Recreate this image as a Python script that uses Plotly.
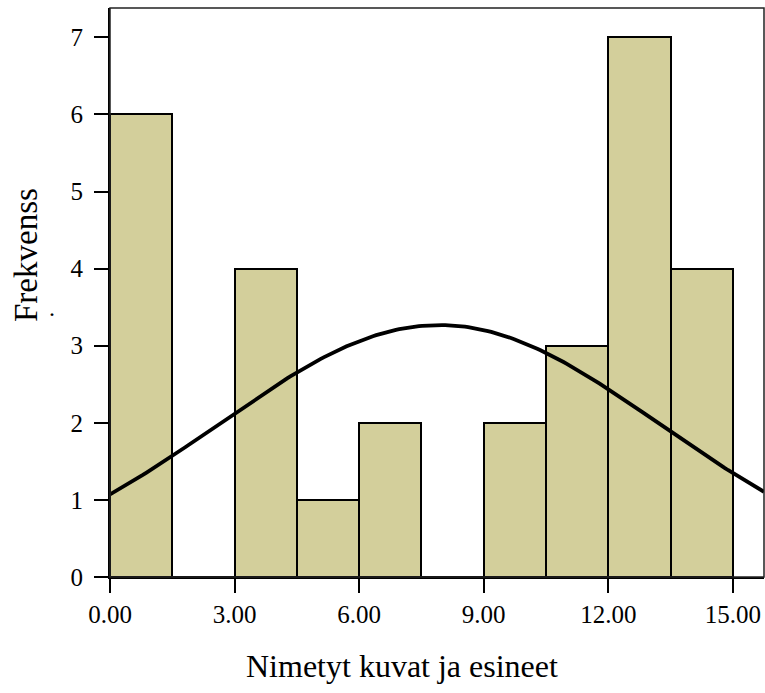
import numpy as np
import plotly.graph_objects as go

# Histogram data (bin left edges, counts)
bin_left = [0.0, 1.5, 3.0, 4.5, 6.0, 7.5, 9.0, 10.5, 12.0, 13.5]
counts = [6, 0, 4, 1, 2, 0, 2, 3, 7, 4]
bin_width = 1.5

# Normal curve fit parameters
fit_mean = 7.93
fit_sd = 5.31
n_total = sum(counts)

x_tickvals = [0, 3, 6, 9, 12, 15]
x_ticktext = ["0.00", "3.00", "6.00", "9.00", "12.00", "15.00"]
y_tickvals = [0, 1, 2, 3, 4, 5, 6, 7]

x_title = "Nimetyt kuvat ja esineet"
y_title = "Frekvenss"

FONT = "Liberation Serif"
BAR_COLOR = "#D3CF9B"

W, H = 765, 693
L, R, T, B = 110, 1, 8, H - 577
PW = W - L - R
PH = H - T - B

centers = [b + bin_width / 2 for b in bin_left]
xs = np.linspace(0, 15.75, 200)
ys = n_total * bin_width / (fit_sd * np.sqrt(2 * np.pi)) * np.exp(-0.5 * ((xs - fit_mean) / fit_sd) ** 2)

fig = go.Figure()
fig.add_trace(go.Bar(x=centers, y=counts, width=bin_width,
                     marker=dict(color=BAR_COLOR, line=dict(color="black", width=2)),
                     showlegend=False, hoverinfo="skip"))
fig.add_trace(go.Scatter(x=xs, y=ys, mode="lines",
                         line=dict(color="black", width=3.8), showlegend=False,
                         hoverinfo="skip"))

axis_common = dict(showgrid=False, zeroline=False, showline=True, linecolor="black",
                   linewidth=2, ticks="outside", tickcolor="black", tickwidth=2,
                   tickfont=dict(family=FONT, size=25, color="black"))


def px_x(px):
    return (px - L) / PW


def px_y(py):
    return (H - B - py) / PH


fig.update_layout(
    width=W, height=H,
    margin=dict(l=L, r=R, t=T, b=B, autoexpand=False),
    plot_bgcolor="white", paper_bgcolor="white",
    bargap=0,
    xaxis=dict(range=[0, 15.75], tickvals=x_tickvals, ticktext=x_ticktext,
               ticklen=14, ticklabelstandoff=0, automargin=False, **axis_common),
    yaxis=dict(range=[0, 7.38], tickvals=y_tickvals, ticklen=14,
               ticklabelstandoff=6, automargin=False, **axis_common),
    shapes=[dict(type="rect", xref="paper", yref="paper", x0=0, x1=1, y0=0, y1=1,
                 line=dict(color="#222222", width=1.5), layer="above")],
    annotations=[
        dict(text=x_title, xref="paper", yref="paper", x=px_x(402), y=px_y(666),
             xanchor="center", yanchor="middle", showarrow=False,
             font=dict(family=FONT, size=32, color="black")),
        dict(text=y_title, xref="paper", yref="paper", x=px_x(26), y=px_y(255),
             xanchor="center", yanchor="middle", textangle=-90, showarrow=False,
             font=dict(family=FONT, size=33, color="black")),
        dict(text=".", xref="paper", yref="paper", x=px_x(52), y=px_y(308),
             xanchor="center", yanchor="middle", showarrow=False,
             font=dict(family=FONT, size=24, color="black")),
    ],
)

fig.write_html("out.html", config={"displayModeBar": False},
               post_script="document.body.style.margin='0';document.body.style.overflow='hidden';")
